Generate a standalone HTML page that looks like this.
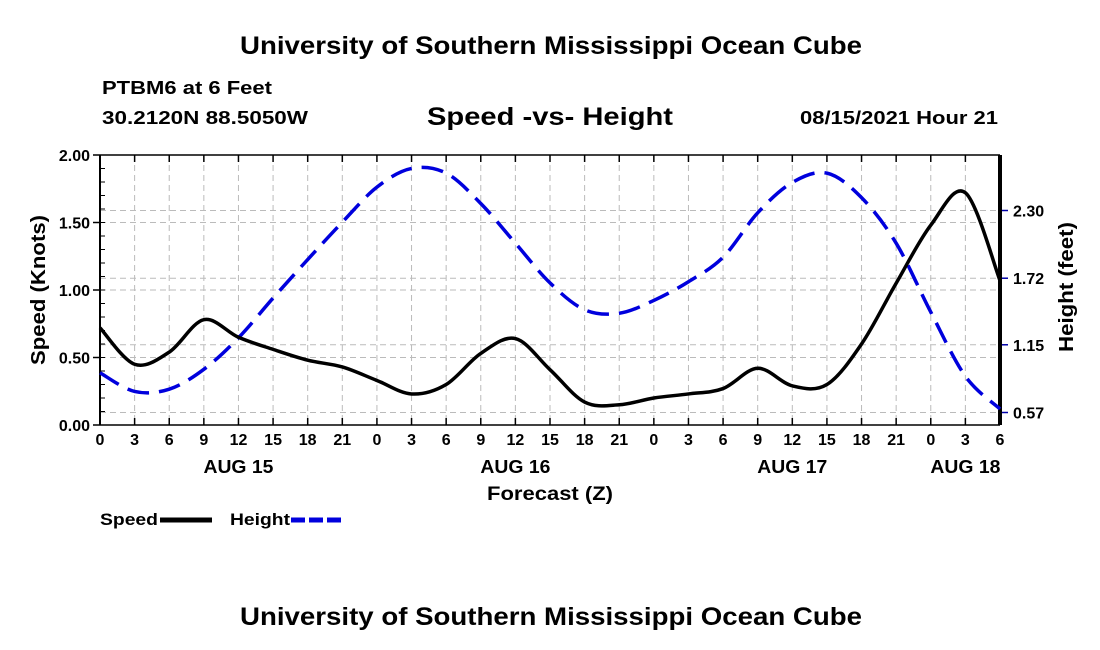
<!DOCTYPE html>
<html><head><meta charset="utf-8"><style>
body{margin:0;background:#fff;}
svg{display:block;font-family:"Liberation Sans",sans-serif;font-weight:bold;}
</style></head><body>
<svg id="chart" width="1100" height="650" viewBox="0 0 1100 650" xmlns="http://www.w3.org/2000/svg">
<text x="240" y="54" font-size="25" textLength="622" lengthAdjust="spacingAndGlyphs">University of Southern Mississippi Ocean Cube</text>
<text x="102" y="94" font-size="18" textLength="170" lengthAdjust="spacingAndGlyphs">PTBM6 at 6 Feet</text>
<text x="102" y="124" font-size="18" textLength="206" lengthAdjust="spacingAndGlyphs">30.2120N  88.5050W</text>
<text x="427" y="125" font-size="25" textLength="246" lengthAdjust="spacingAndGlyphs">Speed -vs- Height</text>
<text x="800" y="124" font-size="18" textLength="198" lengthAdjust="spacingAndGlyphs">08/15/2021 Hour 21</text>
<g id="grid"></g>
<g id="axes"></g>
<g id="series"></g>
<text x="487" y="500" font-size="19" textLength="126" lengthAdjust="spacingAndGlyphs">Forecast (Z)</text>
<text transform="translate(45,290) rotate(-90)" font-size="20" text-anchor="middle" textLength="150" lengthAdjust="spacingAndGlyphs">Speed (Knots)</text>
<text transform="translate(1073,287) rotate(-90)" font-size="20" text-anchor="middle" textLength="130" lengthAdjust="spacingAndGlyphs">Height (feet)</text>
<g>
<text x="100" y="525" font-size="17" textLength="58" lengthAdjust="spacingAndGlyphs">Speed</text>
<line x1="160" y1="520" x2="212" y2="520" stroke="#000" stroke-width="5"/>
<text x="230" y="525" font-size="17" textLength="60" lengthAdjust="spacingAndGlyphs">Height</text>
<line x1="291" y1="520" x2="343" y2="520" stroke="#0000dd" stroke-width="5" stroke-dasharray="14,4"/>
</g>
<text x="240" y="625" font-size="25" textLength="622" lengthAdjust="spacingAndGlyphs">University of Southern Mississippi Ocean Cube</text>
</svg>
<script>
const hours = [0,3,6,9,12,15,18,21,24,27,30,33,36,39,42,45,48,51,54,57,60,63,66,69,72,75,78];
const speed = [0.72,0.45,0.54,0.78,0.65,0.56,0.48,0.43,0.33,0.23,0.30,0.53,0.64,0.41,0.17,0.15,0.20,0.23,0.27,0.42,0.29,0.30,0.60,1.05,1.48,1.72,1.07];
const height = [0.91,0.75,0.77,0.94,1.21,1.55,1.88,2.20,2.50,2.66,2.62,2.36,2.02,1.68,1.45,1.42,1.53,1.69,1.90,2.28,2.54,2.62,2.41,2.02,1.43,0.88,0.60];
const xTickLabels = ["0","3","6","9","12","15","18","21","0","3","6","9","12","15","18","21","0","3","6","9","12","15","18","21","0","3","6"];
const dayLabels = ["AUG 15","AUG 16","AUG 17","AUG 18"];
const dayLabelHours = [12,36,60,75];
const speedTicks = [0,0.5,1,1.5,2];
const heightTicks = [0.57,1.15,1.72,2.30];

const L=100,R=1000,T=155,B=425;
const x=h=>L+(h-0)/78*(R-L);
const yS=v=>B-v/2*(B-T);
const yH=v=>412.5-(v-0.57)*(202/1.73);
const NS="http://www.w3.org/2000/svg";
function mk(parent,tag,attrs){const e=document.createElementNS(NS,tag);for(const k in attrs)e.setAttribute(k,attrs[k]);parent.appendChild(e);return e;}
const grid=document.getElementById('grid'),axes=document.getElementById('axes'),series=document.getElementById('series');
hours.forEach((h,i)=>{
  const g=mk(grid,'line',{x1:x(h),x2:x(h),y1:T,y2:B,stroke:'#bbb','stroke-dasharray':'6,4'});
  
  
  mk(axes,'line',{x1:x(h),x2:x(h),y1:B,y2:B-7,stroke:'#000','stroke-width':1.5});
  mk(axes,'line',{x1:x(h),x2:x(h),y1:T,y2:T+7,stroke:'#000','stroke-width':1.5});
  const t=mk(axes,'text',{x:x(h),y:B+20,'font-size':16,'text-anchor':'middle'});
  t.textContent=xTickLabels[i];
  
  
});
dayLabels.forEach((d,i)=>{
  const t=mk(axes,'text',{x:x(dayLabelHours[i]),y:B+48,'font-size':18,'text-anchor':'middle',textLength:70,lengthAdjust:'spacingAndGlyphs'});
  t.textContent=d;
  
  
});
speedTicks.forEach(v=>{
  if(v>0&&v<2){const g=mk(grid,'line',{x1:L,x2:R,y1:yS(v),y2:yS(v),stroke:'#bbb','stroke-dasharray':'6,4'});
  
  }
  mk(axes,'line',{x1:L-7,x2:L,y1:yS(v),y2:yS(v),stroke:'#000','stroke-width':1.5});
  const t=mk(axes,'text',{x:L-10,y:yS(v)+6,'font-size':16,'text-anchor':'end'});
  t.textContent=v.toFixed(2);
  
  
});
for(let v=0.1;v<2;v+=0.1){mk(axes,'line',{x1:L,x2:L+5,y1:yS(v),y2:yS(v),stroke:'#000','stroke-width':1});}
heightTicks.forEach(v=>{
  const g=mk(grid,'line',{x1:L,x2:R,y1:yH(v),y2:yH(v),stroke:'#bbb','stroke-dasharray':'6,4'});
  
  
  mk(axes,'line',{x1:R,x2:R+8,y1:yH(v),y2:yH(v),stroke:'#0000aa','stroke-width':1.5});
  const t=mk(axes,'text',{x:R+13,y:yH(v)+6,'font-size':16});
  t.textContent=v.toFixed(2);
  
  
});
mk(axes,'line',{x1:L,x2:R,y1:T,y2:T,stroke:'#000','stroke-width':1.5});
mk(axes,'line',{x1:L,x2:R,y1:B,y2:B,stroke:'#000','stroke-width':1.5});
mk(axes,'line',{x1:L,x2:L,y1:T,y2:B,stroke:'#000','stroke-width':2});
mk(axes,'line',{x1:R,x2:R,y1:T,y2:B,stroke:'#000','stroke-width':4});
function smooth(pts){let d=`M${pts[0][0]},${pts[0][1]}`;for(let i=0;i<pts.length-1;i++){const p0=pts[Math.max(0,i-1)],p1=pts[i],p2=pts[i+1],p3=pts[Math.min(pts.length-1,i+2)];d+=` C${p1[0]+(p2[0]-p0[0])/6},${p1[1]+(p2[1]-p0[1])/6} ${p2[0]-(p3[0]-p1[0])/6},${p2[1]-(p3[1]-p1[1])/6} ${p2[0]},${p2[1]}`;}return d;}
const hp=mk(series,'path',{d:smooth(hours.map((h,i)=>[x(h),yH(height[i])])),fill:'none',stroke:'#0000dd','stroke-width':3.5,'stroke-dasharray':'22,10'});


const sp=mk(series,'path',{d:smooth(hours.map((h,i)=>[x(h),yS(speed[i])])),fill:'none',stroke:'#000','stroke-width':3.5});


</script>
</body></html>
